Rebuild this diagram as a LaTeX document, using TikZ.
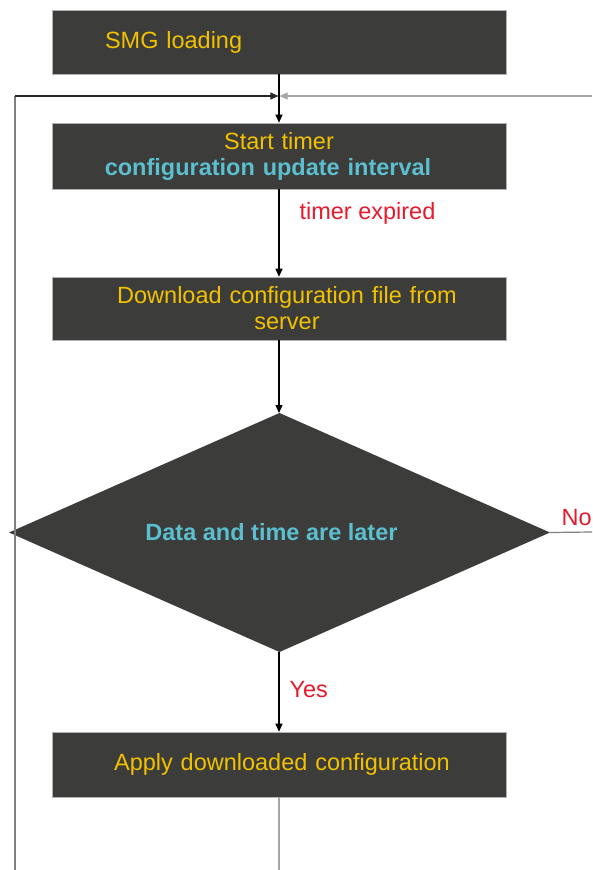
\documentclass[tikz,border=0pt]{standalone}
\usepackage{fontspec}
\setmainfont{Liberation Sans}
\usetikzlibrary{arrows.meta,shapes.geometric,positioning}
\definecolor{boxgray}{HTML}{3C3C3A}
\definecolor{txtyellow}{HTML}{F2C200}
\definecolor{txtcyan}{HTML}{5BBFCF}
\definecolor{txtred}{HTML}{E8192C}
\newcommand{\ylw}[1]{\textcolor{txtyellow}{#1}}
\newcommand{\cyn}[1]{\textcolor{txtcyan}{\bfseries #1}}
\tikzset{
  stepbox/.style={draw=gray!60, line width=0.6pt, fill=boxgray, minimum width=454pt,
    text width=430pt, align=center, inner xsep=12pt, inner ysep=0pt,
    font=\fontsize{23.5}{26}\selectfont},
  decide/.style={diamond, aspect=2.264, fill=boxgray, minimum width=541pt, minimum height=239pt,
    inner sep=0pt, outer sep=0pt, font=\fontsize{23.5}{26}\selectfont},
  flow/.style={line width=1.2pt, -{Triangle[length=8pt,width=7pt]}},
  plain/.style={line width=1.2pt},
  note/.style={anchor=west, text=txtred, font=\fontsize{23.5}{26}\selectfont}
}
\begin{document}
\begin{tikzpicture}[x=1pt,y=-1pt]
\useasboundingbox (0,0) rectangle (592,870);
% boxes
\node [stepbox, minimum height=64pt, text width=348pt, inner xsep=53pt, align=left] (load) at (279,42) {\ylw{SMG loading}};
\node [stepbox, minimum height=66pt] (timer) at (279,156) {\ylw{Start timer}\\\hspace*{-22pt}\cyn{configuration update interval}};
\node [stepbox, minimum height=63pt] (fetch) at (279,308.5) {\hspace*{16pt}\ylw{Download configuration file from}\\\hspace*{16pt}\ylw{server}};
\node [decide] (check) at (279.5,532.5) {\hspace*{-16pt}\cyn{Data and time are later}};
\node [stepbox, minimum height=65pt] (apply) at (279,764.5) {\hspace*{6pt}\ylw{Apply downloaded configuration}};
% loop coordinates
\coordinate (join) at (279,96);
\coordinate (ltop) at (15,96);
\coordinate (lbot) at (15,870);
\coordinate (rtop) at (592,96);
\coordinate (noend) at (592,532);
\coordinate (bot) at (279,870);
% connectors
\draw [plain] (load.south) -- (join);
\draw [flow] (join) -- (timer.north);
\draw [flow] (timer.south) -- (fetch.north);
\draw [flow] (fetch.south) -- (fetch.south |- check.north);
\draw [flow] (check.south -| apply.north) -- (apply.north);
\draw [plain, gray] (noend) -- (check.east);
\draw [plain, gray!70] (apply.south) -- (bot);
\draw [plain, gray] (lbot) -- (ltop);
\draw [flow, black!85] (ltop) -- ([xshift=-0.6pt]join);
\draw [flow, gray!70] (rtop) -- ([xshift=0.6pt]join);
% labels
\node [note] (expired) at (296,213) {timer expired};
\node [note] (no) at (558,518) {No};
\node [note] (yes) at (286,690) {Yes};
\end{tikzpicture}
\end{document}
